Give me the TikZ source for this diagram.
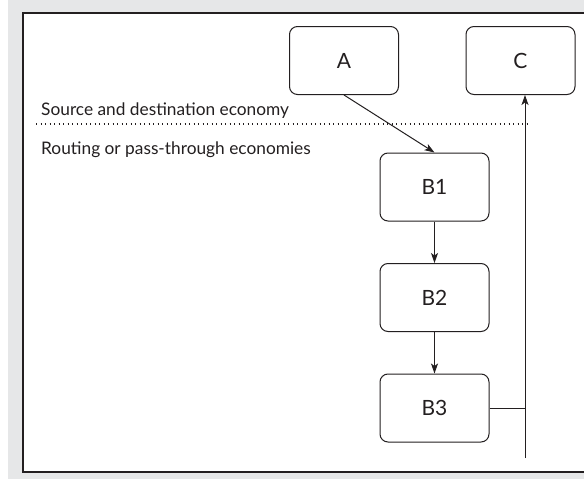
\documentclass[tikz,border=0pt]{standalone}
\usepackage{fontspec}
\setmainfont{Lato}
\usetikzlibrary{arrows.meta}
\definecolor{bggray}{HTML}{E6E7E8}
\definecolor{ink}{HTML}{231F20}
\begin{document}
\begin{tikzpicture}[x=1pt,y=-1pt,
  box/.style={draw=ink,line width=1pt,rounded corners=8pt,minimum width=109pt,minimum height=68pt,inner sep=0pt,text=ink,font=\fontsize{21}{24}\selectfont},
  conn/.style={draw=ink,line width=1pt},
  arr/.style={conn,-{Stealth[length=10pt,width=7pt,inset=2.5pt]}},
  lab/.style={anchor=base west,inner sep=0pt,text=ink,font=\fontsize{17.3}{20}\selectfont}]
\useasboundingbox (0,0) rectangle (584,479);
\fill[bggray] (0,0) rectangle (584,479);
\fill[white] (0,0) rectangle (8,479);
\fill[white] (23,13) rectangle (584,472);
\draw[ink,line width=1.5pt] (584,13) -- (23,13) -- (23,472) -- (584,472);
\node[box] (A) at (344,60.5) {A};
\node[box] (C) at (520.5,60.5) {C};
\node[box] (B1) at (434.5,187) {B1};
\node[box] (B2) at (434.5,297.5) {B2};
\node[box] (B3) at (434.5,408) {B3};
\node[lab] (src) at (41,115) {Source and destination economy};
\node[lab] (rout) at (41,154) {Routing or pass-through economies};
\coordinate (d1) at (36,124);
\coordinate (d2) at (527,124);
\draw[ink,line width=1.2pt,dash pattern=on 1.2pt off 3.3pt] (d1) -- (d2);
\draw[arr] (A.south) -- (B1.north);
\draw[arr] (B1.south) -- (B2.north);
\draw[arr] (B2.south) -- (B3.north);
\coordinate (bot) at (525,458);
\coordinate (junc) at (525,408);
\draw[conn] (B3.east) -- (junc);
\draw[arr] (bot) -- (bot |- C.south);
\end{tikzpicture}
\end{document}
